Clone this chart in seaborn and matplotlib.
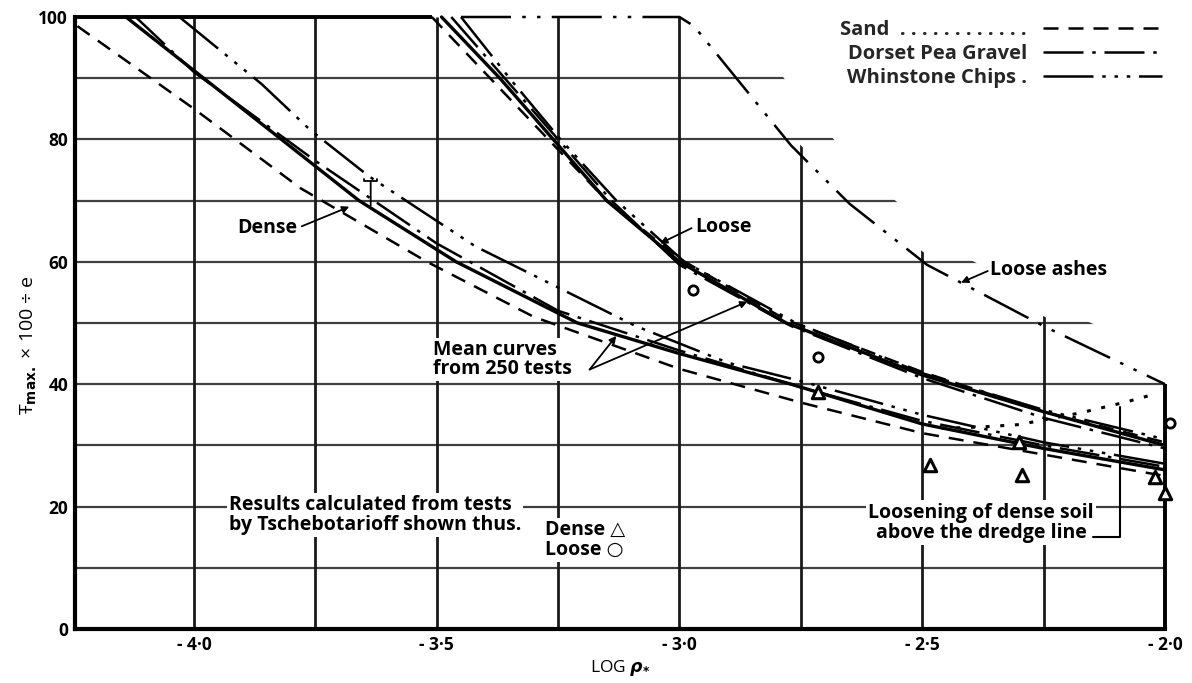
import matplotlib
matplotlib.use("Agg")
import matplotlib.pyplot as plt
from matplotlib.lines import Line2D
from matplotlib.patches import Polygon
import seaborn as sns

# ---- curve data: x = log flexibility number, y = moment ratio (%) ----
# dense soils
dense_mean_x = [-4.14, -3.98, -3.82, -3.66, -3.46, -3.21, -3.0, -2.77, -2.5, -2.25, -2.0]
dense_mean_y = [100, 90, 80, 70, 60, 50, 45, 40, 33.5, 29.5, 26]
dense_sand_x = [-4.24, -4.0, -3.78, -3.52, -3.3, -3.0, -2.75, -2.5, -2.25, -2.0]
dense_sand_y = [98.5, 85, 72, 60, 51, 42.5, 37, 32, 28.5, 25]
dense_pea_x = [-4.12, -4.0, -3.75, -3.5, -3.25, -3.0, -2.75, -2.5, -2.25, -2.0]
dense_pea_y = [100, 91, 76.5, 63, 52, 45.5, 39.5, 34, 30, 26.5]
dense_whin_x = [-4.03, -3.86, -3.76, -3.64, -3.42, -3.09, -2.9, -2.75, -2.5, -2.25, -2.0]
dense_whin_y = [100, 89, 81.5, 74, 62.5, 49.5, 43.5, 40.5, 35, 30.5, 27]

# loose soils
loose_mean_x = [-3.49, -3.37, -3.26, -3.15, -3.0, -2.78, -2.5, -2.25, -2.0]
loose_mean_y = [100, 90, 80, 70, 60, 50, 41.5, 35.5, 30]
loose_sand_x = [-3.51, -3.39, -3.27, -3.15, -3.0, -2.78, -2.5, -2.25, -2.0]
loose_sand_y = [100, 90, 80, 70, 60.5, 50.5, 42, 35.5, 30.5]
loose_pea_x = [-3.47, -3.36, -3.25, -3.14, -3.0, -2.77, -2.5, -2.25, -2.0]
loose_pea_y = [100, 90, 80, 70, 59.5, 49.5, 41, 34.5, 29.5]
loose_whin_x = [-3.45, -3.35, -3.245, -3.13, -2.99, -2.76, -2.5, -2.25, -2.0]
loose_whin_y = [100, 90, 80, 70, 60, 50, 41.8, 35.8, 31]

# loose ashes
ashes_x = [-3.45, -3.0, -2.97, -2.77, -2.65, -2.49, -2.25, -2.0]
ashes_y = [100, 100, 98.5, 79, 69.5, 59.5, 49.5, 40]

# loosening of dense soil above the dredge line
loosen_x = [-2.46, -2.38, -2.3, -2.175, -2.08, -2.025]
loosen_y = [32.8, 33.0, 33.4, 35.3, 37.1, 38.3]

# Tschebotarioff test results
tsch_dense_x = [-2.714, -2.484, -2.294, -2.30, -2.02, -2.0]
tsch_dense_y = [38.7, 26.8, 25.2, 30.6, 24.8, 22.2]
tsch_loose_x = [-2.973, -2.714, -1.99]
tsch_loose_y = [55.4, 44.5, 33.7]

# axis ticks
x_ticks = [-4.0, -3.5, -3.0, -2.5, -2.0]
x_tick_labels = ["- 4·0", "- 3·5", "- 3·0", "- 2·5", "- 2·0"]
y_ticks = [0, 20, 40, 60, 80, 100]
y_tick_labels = ["0", "20", "40", "60", "80", "100"]
grid_x = [-4.0, -3.75, -3.5, -3.25, -3.0, -2.75, -2.5, -2.25]
grid_y = [10, 20, 30, 40, 50, 60, 70, 80, 90]

# ---- line styles ----
LW = 1.8
SAND = (0, (6.0, 4.0))
PEA = (0, (16, 3.5, 1.4, 3.5))
WHIN = (0, (20, 3.5, 1.4, 3.5, 1.4, 3.5, 1.4, 3.5))
ASHES = (0, (20, 4.5, 1.4, 4.5, 1.4, 4.5))
DOTS = (0, (1.3, 3.5))

FONT = ["Open Sans", "DejaVu Sans"]
sns.set_theme(style="white")
plt.rcParams["font.family"] = FONT
plt.rcParams["font.weight"] = "bold"
plt.rcParams["mathtext.fontset"] = "dejavusans"

fig = plt.figure(figsize=(11.92, 6.83), dpi=100)
ax = fig.add_axes([75 / 1192, 1 - 629 / 683, (1165 - 75) / 1192, (629 - 17) / 683])
xmin, xmax = -4.245, -2.0
ax.set_xlim(xmin, xmax)
ax.set_ylim(0, 100)

# ---- grid, bounded above by the loose-ashes curve ----
v_pts = [(xmin - 0.02, -2), (xmin - 0.02, 101)]
v_pts += [(x, min(y + 1.6, 101)) for x, y in zip(ashes_x[1:], ashes_y[1:])]
v_pts += [(xmax + 0.05, 41.6), (xmax + 0.05, -2)]
v_clip = Polygon(v_pts, closed=True, transform=ax.transData)

h_pts = [(xmin - 0.02, -2), (xmin - 0.02, 101)]
h_pts += [(x + 0.09, min(y + 0.8, 101)) for x, y in zip(ashes_x[1:], ashes_y[1:])]
h_pts += [(xmax + 0.05, 40.8), (xmax + 0.05, -2)]
h_clip = Polygon(h_pts, closed=True, transform=ax.transData)

hl = ax.hlines(grid_y, xmin, xmax, colors="#404040", linewidth=1.6, zorder=1)
vl = ax.vlines(grid_x, 0, 100, colors="#1a1a1a", linewidth=2.0, zorder=1)
hl.set_clip_path(h_clip)
vl.set_clip_path(v_clip)
# right edge of the chart at -2.0, up to the loose-ashes curve
ax.vlines([xmax], 0, ashes_y[-1], colors="black", linewidth=2.8, zorder=2, clip_on=False)
# top edge up to the start of the loose curves
ax.hlines([100], xmin, min(loose_sand_x), colors="black", linewidth=2.8, zorder=2, clip_on=False)

for side in ["top", "right"]:
    ax.spines[side].set_visible(False)
for side in ["left", "bottom"]:
    ax.spines[side].set_color("black")
    ax.spines[side].set_linewidth(3.0)

# ---- curves ----
curves = [
    (dense_sand_x, dense_sand_y, SAND, LW),
    (dense_pea_x, dense_pea_y, PEA, LW),
    (dense_whin_x, dense_whin_y, WHIN, LW),
    (dense_mean_x, dense_mean_y, "-", 2.4),
    (loose_sand_x, loose_sand_y, SAND, LW),
    (loose_pea_x, loose_pea_y, PEA, LW),
    (loose_whin_x, loose_whin_y, WHIN, LW),
    (loose_mean_x, loose_mean_y, "-", 2.4),
    (ashes_x, ashes_y, ASHES, LW),
    (loosen_x, loosen_y, DOTS, 2.2),
]
for cx, cy, ls, lw in curves:
    sns.lineplot(x=cx, y=cy, ax=ax, color="black", linestyle=ls, linewidth=lw,
                 sort=False, estimator=None, zorder=3, clip_on=False)

sns.scatterplot(x=tsch_dense_x, y=tsch_dense_y, ax=ax, marker="^", s=80,
                facecolor="white", edgecolor="black", linewidth=2.2, zorder=5, clip_on=False)
sns.scatterplot(x=tsch_loose_x, y=tsch_loose_y, ax=ax, marker="o", s=45,
                facecolor="white", edgecolor="black", linewidth=2.0, zorder=5, clip_on=False)

# ---- ticks and axis labels ----
ax.set_xticks(x_ticks)
ax.set_xticklabels(x_tick_labels)
ax.set_yticks(y_ticks)
ax.set_yticklabels(y_tick_labels)
ax.tick_params(axis="both", length=0, labelsize=12.5, pad=5, colors="black")
ax.set_xlabel(r"LOG $\rho_{*}$", fontsize=12.5, labelpad=3, color="black")
ax.set_ylabel("Ŧ$_{\\rm max.}$ × 100 ÷ e", fontsize=14, color="black")
ax.yaxis.set_label_coords(-0.033, 0.464)

# ---- annotations ----
box = dict(facecolor="white", edgecolor="none", pad=1.5)
txt = dict(fontsize=14, color="black", fontweight="bold")
thin = dict(arrowstyle="-|>", color="black", lw=1.3, mutation_scale=10, shrinkA=0, shrinkB=0)

ax.text(-3.848, 65.5, "Dense", ha="center", va="center", bbox=box, zorder=6, **txt)
ax.annotate("", xy=(-3.68, 69.0), xytext=(-3.778, 65.8), arrowprops=thin, zorder=6)
ax.annotate("", xy=(-3.636, 73.2), xytext=(-3.636, 69.2),
            arrowprops=dict(arrowstyle="-[, widthB=0.4, lengthB=0.1", color="black", lw=1.3,
                            shrinkA=0, shrinkB=0), zorder=6)

ax.text(-2.967, 65.7, "Loose", ha="left", va="center", bbox=box, zorder=6, **txt)
ax.annotate("", xy=(-3.04, 63.0), xytext=(-2.975, 65.5), arrowprops=thin, zorder=6)

ax.text(-2.36, 58.7, "Loose ashes", ha="left", va="center", bbox=box, zorder=6, **txt)
ax.annotate("", xy=(-2.42, 56.6), xytext=(-2.365, 58.5), arrowprops=thin, zorder=6)

ax.text(-3.508, 44.0, "Mean curves\nfrom 250 tests", ha="left", va="center",
        linespacing=0.95, bbox=box, zorder=6, **txt)
ax.annotate("", xy=(-2.86, 53.5), xytext=(-3.185, 42.4), arrowprops=thin, zorder=6)
ax.annotate("", xy=(-3.13, 47.9), xytext=(-3.185, 42.4), arrowprops=thin, zorder=6)

ax.text(-3.928, 18.65, "Results calculated from tests\nby Tschebotarioff shown thus.",
        ha="left", va="center", linespacing=1.0, bbox=box, zorder=6, **txt)
ax.text(-3.276, 14.5, "Dense △\nLoose ○", ha="left", va="center", linespacing=1.0,
        bbox=box, zorder=6, **txt)

ax.text(-2.379, 17.4, "Loosening of dense soil\nabove the dredge line", ha="center",
        va="center", linespacing=1.0, bbox=box, zorder=6, **txt)
ax.annotate("", xy=(-2.093, 36.3), xytext=(-2.148, 15.0),
            arrowprops=dict(arrowstyle="-", color="black", lw=1.5, shrinkA=0, shrinkB=0,
                            connectionstyle="angle,angleA=0,angleB=90,rad=0"), zorder=6)

# ---- legend: label first, line sample on the right ----
handles = [
    Line2D([], [], color="black", linestyle=SAND, linewidth=LW),
    Line2D([], [], color="black", linestyle=PEA, linewidth=LW),
    Line2D([], [], color="black", linestyle=WHIN, linewidth=LW),
]
labels = ["Sand  . . . . . . . . . . . .", "Dorset Pea Gravel", "Whinstone Chips ."]
fig.legend(handles, labels, markerfirst=False, frameon=False, loc="upper right",
           bbox_to_anchor=(1170 / 1192, 1 - 12 / 683), handlelength=5.9, handletextpad=0.8,
           labelspacing=0.2, borderaxespad=0,
           prop=dict(family=FONT, size=14.5, weight="bold"))

fig.savefig("out.png", dpi=100)
